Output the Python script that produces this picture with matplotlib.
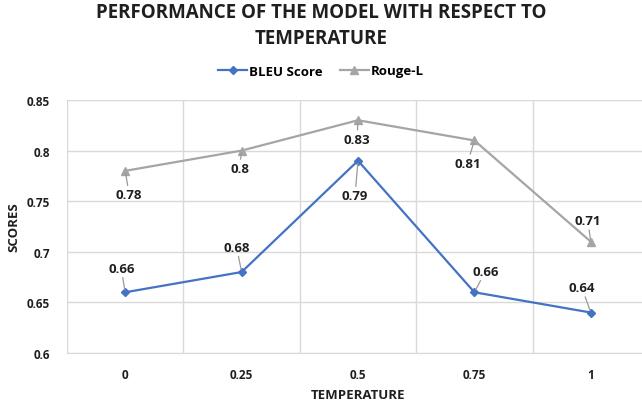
import matplotlib.pyplot as plt
from matplotlib.ticker import FixedLocator

# Data
temperatures = ["0", "0.25", "0.5", "0.75", "1"]
bleu = [0.66, 0.68, 0.79, 0.66, 0.64]
rouge = [0.78, 0.80, 0.83, 0.81, 0.71]
y_ticks = [0.6, 0.65, 0.7, 0.75, 0.8, 0.85]
y_tick_labels = ["0.6", "0.65", "0.7", "0.75", "0.8", "0.85"]

# label offsets in pixels (dx, dy) relative to each point
bleu_offsets = [(-4, 24), (-5, 25), (-3, -35), (11, 21), (-9, 25)]
rouge_offsets = [(4, -24), (-2, -18), (-1, -19), (-7, -23), (-3, 21)]

BLUE = "#4472C4"
GREY = "#A5A5A5"
TXT = "#1f1f1f"

plt.rcParams['font.family'] = ['Open Sans', 'DejaVu Sans']
plt.rcParams['font.weight'] = 'bold'

fig = plt.figure(figsize=(6.42, 4.06), dpi=100)
ax = fig.add_axes([67 / 642, 1 - 354 / 406, 582 / 642, 253 / 406])

x = list(range(len(temperatures)))
ax.plot(x, bleu, color=BLUE, lw=1.6, marker="D", ms=4.5, label="BLEU Score", zorder=3)
ax.plot(x, rouge, color=GREY, lw=1.6, marker="^", ms=6, label="Rouge-L", zorder=3)

for ys, offs in [(bleu, bleu_offsets), (rouge, rouge_offsets)]:
    for xi, yi, (dx, dy) in zip(x, ys, offs):
        ax.annotate(f"{yi:g}", (xi, yi), xytext=(dx, dy), textcoords="offset pixels",
                    ha="center", va="center", fontsize=9.5, fontweight="bold", color=TXT,
                    arrowprops=dict(arrowstyle="-", color="#999999", lw=0.9,
                                    shrinkA=0, shrinkB=2))

ax.set_xlim(-0.5, 4.5)
ax.set_ylim(0.6, 0.85)
ax.set_yticks(y_ticks)
ax.set_yticklabels(y_tick_labels)
ax.set_xticks(x)
ax.set_xticklabels(temperatures)
ax.xaxis.set_minor_locator(FixedLocator([-0.5, 0.5, 1.5, 2.5, 3.5]))
ax.tick_params(axis="both", which="both", length=0, labelsize=8.5, colors=TXT)
ax.tick_params(axis="x", pad=11)
ax.tick_params(axis="y", pad=12)

ax.grid(axis="y", which="major", color="#D9D9D9", lw=1)
ax.grid(axis="x", which="minor", color="#D9D9D9", lw=1)
for s in ax.spines.values():
    s.set_visible(False)
ax.spines["bottom"].set_visible(True)
ax.spines["bottom"].set_color("#D9D9D9")

ax.set_xlabel("TEMPERATURE", fontsize=9.5, fontweight="bold", labelpad=5, color=TXT)
ax.set_ylabel("SCORES", fontsize=9.5, fontweight="bold", labelpad=5, color=TXT)

fig.text(0.5, 1 - 26 / 406, "PERFORMANCE OF THE MODEL WITH RESPECT TO\nTEMPERATURE",
         ha="center", va="center", fontsize=13.5, fontweight="bold",
         linespacing=1.35, color=TXT)

fig.legend(loc="center", bbox_to_anchor=(0.5, 1 - 72 / 406), ncol=2, frameon=False,
           prop=dict(size=9.5, weight="bold"), handlelength=2.2, columnspacing=1.3,
           handletextpad=0.15)

fig.savefig("out.png", dpi=100)
